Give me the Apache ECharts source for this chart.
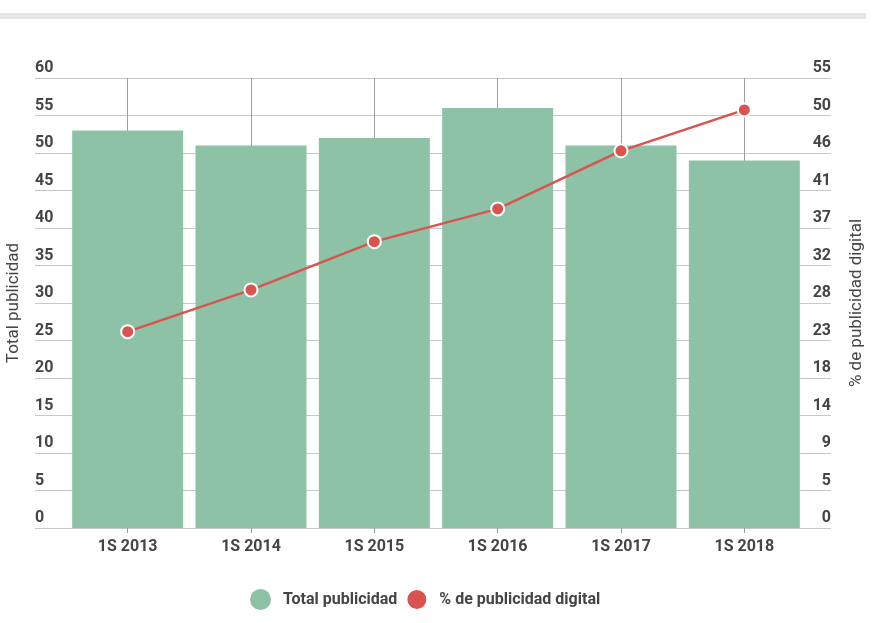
<!DOCTYPE html>
<html>
<head>
<meta charset="utf-8">
<script src="https://cdn.jsdelivr.net/npm/echarts@6/dist/echarts.min.js"></script>
<style>
  html, body { margin: 0; padding: 0; background: #fff; }
  #chart { width: 879px; height: 623px; }
</style>
</head>
<body>
<div id="chart"></div>
<script>
// datos
var categorias = ['1S 2013', '1S 2014', '1S 2015', '1S 2016', '1S 2017', '1S 2018'];
var totalPublicidad = [53, 51, 52, 56, 51, 49];
var pctDigital = [24, 29.1, 35, 39, 46.1, 51.1];

var verde = '#8dc2a6';
var rojo = '#d9534f';
var texto = '#444';
var fuente = 'Roboto, "Noto Sans", sans-serif';

var chart = echarts.init(document.getElementById('chart'));

var option = {
  animation: false,
  textStyle: { fontFamily: fuente },
  graphic: [{
    type: 'rect',
    shape: { x: 0, y: 13, width: 866, height: 6 },
    style: { fill: '#e6e6e6' },
    silent: true
  }],
  legend: {
    top: 583,
    left: 245,
    icon: 'circle',
    itemWidth: 21,
    itemHeight: 21,
    itemGap: 8,
    textStyle: { color: texto, fontSize: 16, fontWeight: 'bold', fontFamily: fuente, padding: [0, 0, 0, 7] },
    data: ['Total publicidad', '% de publicidad digital']
  },
  grid: [
    // rejilla de fondo (lineas horizontales y ejes)
    { left: 35, right: 48, top: 78, bottom: 95, outerBoundsMode: 'none', containLabel: false },
    // rejilla de barras
    { left: 66, right: 73, top: 78, bottom: 95, outerBoundsMode: 'none', containLabel: false }
  ],
  xAxis: [
    { gridIndex: 0, type: 'value', show: false, min: 0, max: 1 },
    {
      gridIndex: 1,
      type: 'category',
      data: categorias,
      axisLine: { show: false },
      axisTick: { show: true, alignWithLabel: true, length: 5, lineStyle: { color: '#999' } },
      splitLine: { show: true, alignWithLabel: true, lineStyle: { color: '#a0a0a0', width: 1 } },
      axisLabel: { color: texto, fontSize: 16, fontWeight: 'bold', margin: 11, fontFamily: fuente }
    }
  ],
  yAxis: [
    {
      gridIndex: 0,
      type: 'value',
      position: 'left',
      min: 0, max: 60, interval: 5,
      name: 'Total publicidad',
      nameLocation: 'middle',
      nameRotate: 90,
      nameGap: 13,
      nameTextStyle: { color: texto, fontSize: 17, fontFamily: fuente },
      axisLine: { show: false },
      axisTick: { show: false },
      axisLabel: {
        inside: true, margin: 0, color: texto, fontSize: 16, fontWeight: 'bold',
        verticalAlign: 'bottom', padding: [0, 0, 2, 0], fontFamily: fuente
      },
      splitLine: { show: true, lineStyle: { color: '#c8c8c8', width: 1 } }
    },
    {
      gridIndex: 0,
      type: 'value',
      position: 'right',
      min: 0, max: 55, interval: 55 / 12,
      name: '% de publicidad digital',
      nameLocation: 'middle',
      nameRotate: 90,
      nameGap: 17,
      nameTextStyle: { color: texto, fontSize: 17, fontFamily: fuente },
      axisLine: { show: false },
      axisTick: { show: false },
      axisLabel: {
        inside: true, margin: 0, color: texto, fontSize: 16, fontWeight: 'bold',
        verticalAlign: 'bottom', padding: [0, 0, 2, 0], fontFamily: fuente,
        formatter: function (v) { return Math.round(v + 1e-9); }
      },
      splitLine: { show: false }
    },
    { gridIndex: 1, type: 'value', min: 0, max: 60, show: false },
    { gridIndex: 1, type: 'value', min: 0, max: 55, show: false }
  ],
  series: [
    {
      name: 'Total publicidad',
      type: 'bar',
      xAxisIndex: 1,
      yAxisIndex: 2,
      data: totalPublicidad,
      barCategoryGap: '10%',
      itemStyle: { color: verde },
      z: 3
    },
    {
      name: '% de publicidad digital',
      type: 'line',
      xAxisIndex: 1,
      yAxisIndex: 3,
      data: pctDigital,
      symbol: 'circle',
      symbolSize: 13,
      lineStyle: { color: rojo, width: 2.5 },
      itemStyle: { color: rojo, borderColor: '#fff', borderWidth: 2 },
      z: 4
    }
  ]
};

chart.setOption(option);
</script>
</body>
</html>
